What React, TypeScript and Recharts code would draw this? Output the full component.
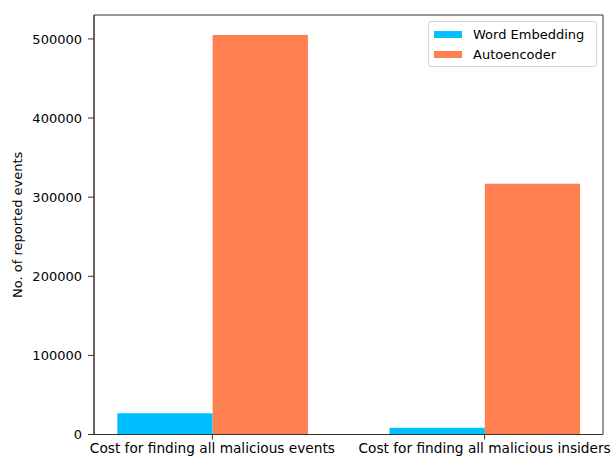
import React from "react";
import {
  BarChart,
  Bar,
  XAxis,
  YAxis,
  ReferenceArea,
} from "recharts";

const categories = [
  "Cost for finding all malicious events",
  "Cost for finding all malicious insiders",
];
const wordEmbedding = [27000, 8400];
const autoencoder = [505000, 317000];
const yTicks = [0, 100000, 200000, 300000, 400000, 500000];

const BLUE = "#00bfff";
const ORANGE = "#ff7f50";
const AXIS = "#333333";
const FONT = "'DejaVu Sans', sans-serif";

// bars are 0.35 wide on each side of the category, plus 5% padding
const X_DOMAIN: [number, number] = [-0.435, 1.435];
const Y_MAX = 530250;

const data = categories.map((name, i) => ({
  x: i,
  name,
  we: wordEmbedding[i],
  ae: autoencoder[i],
}));

// matplotlib-style legend box in the upper right of the axes
function LegendBox() {
  const rows = [
    { label: "Word Embedding", color: BLUE },
    { label: "Autoencoder", color: ORANGE },
  ];
  return (
    <div
      style={{
        position: "absolute",
        left: 428,
        top: 21,
        boxSizing: "border-box",
        border: "1px solid #d6d6d6",
        borderRadius: 3,
        background: "rgba(255,255,255,0.8)",
        padding: "2px 5px",
        width: 169,
        height: 46,
        fontFamily: FONT,
        fontSize: 13,
        color: "#000",
      }}
    >
      {rows.map((r) => (
        <div
          key={r.label}
          style={{ display: "flex", alignItems: "center", height: 20 }}
        >
          <span
            style={{
              display: "inline-block",
              width: 28,
              height: 7,
              background: r.color,
              marginRight: 11,
            }}
          />
          <span>{r.label}</span>
        </div>
      ))}
    </div>
  );
}

export default function App() {
  return (
    <div style={{ position: "relative", width: 612, height: 456, background: "#fff" }}>
      <style>{`body{margin:0}`}</style>
      <BarChart
        width={612}
        height={456}
        data={data}
        margin={{ top: 15, right: 9, left: 0, bottom: 0 }}
        barGap={0}
      >
        <XAxis
          type="number"
          dataKey="x"
          domain={X_DOMAIN}
          ticks={[0, 1]}
          interval={0}
          allowDataOverflow
          tickFormatter={(v: number) => categories[v] ?? ""}
          height={21.5}
          stroke={AXIS}
          tickSize={5}
          tickMargin={4}
          tick={{ fontSize: 13.7, fill: "#000", fontFamily: FONT }}
        />
        <YAxis
          type="number"
          domain={[0, Y_MAX]}
          ticks={yTicks}
          allowDataOverflow
          width={94}
          stroke={AXIS}
          tickSize={6}
          tickMargin={6}
          tick={{ fontSize: 13, fill: "#000", fontFamily: FONT }}
          label={{
            value: "No. of reported events",
            angle: -90,
            position: "insideLeft",
            dx: 12,
            style: {
              textAnchor: "middle",
              fontSize: 13,
              fill: "#000",
              fontFamily: FONT,
            },
          }}
        />
        <ReferenceArea
          x1={X_DOMAIN[0]}
          x2={X_DOMAIN[1]}
          y1={0}
          y2={Y_MAX}
          fill="none"
          stroke={AXIS}
          strokeWidth={1}
          ifOverflow="visible"
        />
        <Bar
          dataKey="we"
          name="Word Embedding"
          fill={BLUE}
          barSize={95.3}
          isAnimationActive={false}
        />
        <Bar
          dataKey="ae"
          name="Autoencoder"
          fill={ORANGE}
          barSize={95.3}
          isAnimationActive={false}
        />
      </BarChart>
      <LegendBox />
    </div>
  );
}
